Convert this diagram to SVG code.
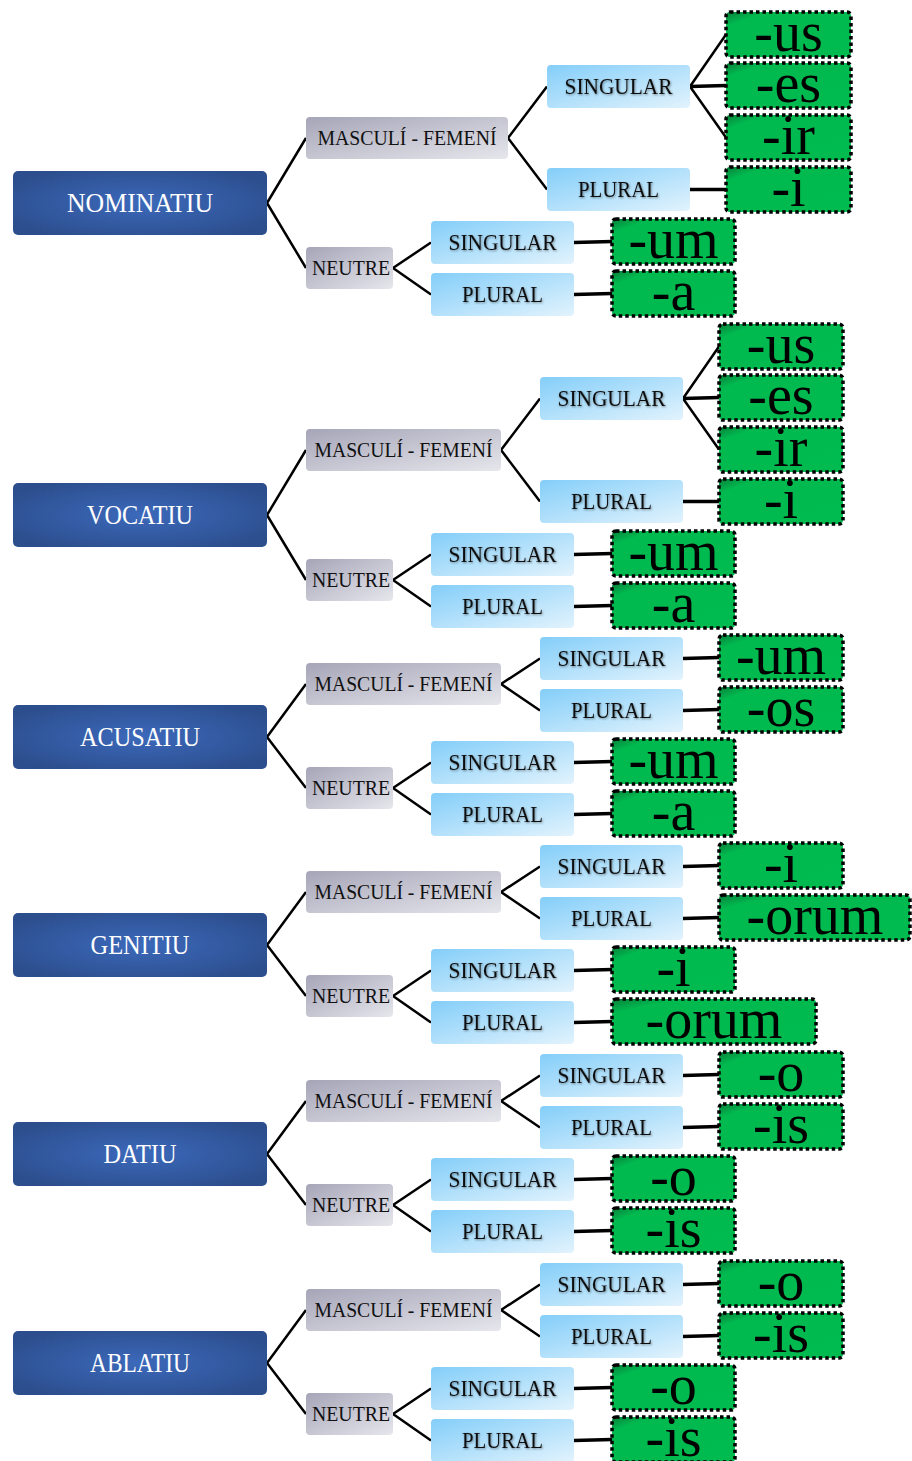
<svg xmlns="http://www.w3.org/2000/svg" width="912" height="1461" viewBox="0 0 912 1461">
<defs>
<radialGradient id="gCase" cx="0.5" cy="0.5" r="0.6">
<stop offset="0" stop-color="#3c69bb"/><stop offset="1" stop-color="#2c4e8d"/>
</radialGradient>
<linearGradient id="gGray" x1="0" y1="0" x2="1" y2="1">
<stop offset="0" stop-color="#a6a5b8"/><stop offset="1" stop-color="#e6e6ec"/>
</linearGradient>
<linearGradient id="gBlue" x1="0" y1="0" x2="1" y2="1">
<stop offset="0" stop-color="#84cef9"/><stop offset="1" stop-color="#e2f3fd"/>
</linearGradient>
<linearGradient id="gGreen" x1="0" y1="0" x2="1" y2="1">
<stop offset="0" stop-color="#07803a"/><stop offset="0.16" stop-color="#00b94f"/><stop offset="1" stop-color="#00bb50"/>
</linearGradient>
<filter id="sh" x="-10%" y="-30%" width="120%" height="160%">
<feDropShadow dx="0.8" dy="1" stdDeviation="0.8" flood-color="#000" flood-opacity="0.45"/>
</filter>
</defs>
<style>
.case{fill:url(#gCase)}
.cat{fill:url(#gGray)}
.num{fill:url(#gBlue)}
.end{fill:url(#gGreen);stroke:#000;stroke-width:3.5;stroke-dasharray:3.5 3}
text{font-family:"Liberation Serif","Times New Roman",serif;text-anchor:middle}
.tc{font-size:28px;fill:#fff}
.tg{font-size:22px;fill:#111}
.tn{font-size:23px;fill:#111;filter:url(#sh)}
.te{font-size:56px;fill:#000}
.d{stroke:#000;stroke-width:2.5;fill:none}
.h{stroke:#000;stroke-width:3.5;fill:none}
</style>
<g id="connectors">
<path class="d" d="M267,203 L306,138 M267,203 L306,268 M508,138 L547,86.5 M508,138 L547,189.5 M690,86.5 L726,34.5 M690,86.5 L726,137.5 M393,268 L431,242.5 M393,268 L431,294.5"/>
<path class="h" d="M690,86.5 L726,85.5 M690,189.5 L726,189.5 M574,242.5 L612,241.5 M574,294.5 L612,293.5"/>
<path class="d" d="M267,515 L306,450 M267,515 L306,580 M501,450 L540,398.5 M501,450 L540,501.5 M683,398.5 L719,346.5 M683,398.5 L719,449.5 M393,580 L431,554.5 M393,580 L431,606.5"/>
<path class="h" d="M683,398.5 L719,397.5 M683,501.5 L719,501.5 M574,554.5 L612,553.5 M574,606.5 L612,605.5"/>
<path class="d" d="M267,737 L306,684 M267,737 L306,788 M501,684 L540,658.5 M501,684 L540,710.5 M393,788 L431,762.5 M393,788 L431,814.5"/>
<path class="h" d="M683,658.5 L719,657.5 M683,710.5 L719,709.5 M574,762.5 L612,761.5 M574,814.5 L612,813.5"/>
<path class="d" d="M267,945 L306,892 M267,945 L306,996 M501,892 L540,866.5 M501,892 L540,918.5 M393,996 L431,970.5 M393,996 L431,1022.5"/>
<path class="h" d="M683,866.5 L719,865.5 M683,918.5 L719,917.5 M574,970.5 L612,969.5 M574,1022.5 L612,1021.5"/>
<path class="d" d="M267,1154 L306,1101 M267,1154 L306,1205 M501,1101 L540,1075.5 M501,1101 L540,1127.5 M393,1205 L431,1179.5 M393,1205 L431,1231.5"/>
<path class="h" d="M683,1075.5 L719,1074.5 M683,1127.5 L719,1126.5 M574,1179.5 L612,1178.5 M574,1231.5 L612,1230.5"/>
<path class="d" d="M267,1363 L306,1310 M267,1363 L306,1414 M501,1310 L540,1284.5 M501,1310 L540,1336.5 M393,1414 L431,1388.5 M393,1414 L431,1440.5"/>
<path class="h" d="M683,1284.5 L719,1283.5 M683,1336.5 L719,1335.5 M574,1388.5 L612,1387.5 M574,1440.5 L612,1439.5"/>
</g>

<!-- Block 1 NOMINATIU -->
<g id="nom"><rect class="case" x="13" y="171" width="254" height="64" rx="5"/><text class="tc" x="140" y="212" textLength="146" lengthAdjust="spacingAndGlyphs">NOMINATIU</text></g>
<g id="nom-mf"><rect class="cat" x="306" y="117" width="202" height="42" rx="4"/><text class="tg" x="407" y="145" textLength="179" lengthAdjust="spacingAndGlyphs">MASCULÍ - FEMENÍ</text></g>
<g id="nom-n"><rect class="cat" x="306" y="247" width="87" height="42" rx="4"/><text class="tg" x="351" y="275" textLength="78" lengthAdjust="spacingAndGlyphs">NEUTRE</text></g>
<g id="nom-mf-s"><rect class="num" x="547" y="65" width="143" height="43" rx="4"/><text class="tn" x="618.5" y="94" textLength="108" lengthAdjust="spacingAndGlyphs">SINGULAR</text></g>
<g id="nom-mf-p"><rect class="num" x="547" y="168" width="143" height="43" rx="4"/><text class="tn" x="618.5" y="197" textLength="81" lengthAdjust="spacingAndGlyphs">PLURAL</text></g>
<g id="nom-e1"><rect class="end" x="726" y="12" width="125" height="45" rx="4"/><text class="te" x="788.5" y="51">-us</text></g>
<g id="nom-e2"><rect class="end" x="726" y="63" width="125" height="45" rx="4"/><text class="te" x="788.5" y="102">-es</text></g>
<g id="nom-e3"><rect class="end" x="726" y="115" width="125" height="45" rx="4"/><text class="te" x="788.5" y="154">-ir</text></g>
<g id="nom-e4"><rect class="end" x="726" y="167" width="125" height="45" rx="4"/><text class="te" x="788.5" y="206">-i</text></g>
<g id="nom-n-s"><rect class="num" x="431" y="221" width="143" height="43" rx="4"/><text class="tn" x="502.5" y="250" textLength="108" lengthAdjust="spacingAndGlyphs">SINGULAR</text></g>
<g id="nom-n-p"><rect class="num" x="431" y="273" width="143" height="43" rx="4"/><text class="tn" x="502.5" y="302" textLength="81" lengthAdjust="spacingAndGlyphs">PLURAL</text></g>
<g id="nom-e5"><rect class="end" x="612" y="219" width="123" height="45" rx="4"/><text class="te" x="673.5" y="258">-um</text></g>
<g id="nom-e6"><rect class="end" x="612" y="271" width="123" height="45" rx="4"/><text class="te" x="673.5" y="310">-a</text></g>

<!-- Block 2 VOCATIU -->
<g id="voc"><rect class="case" x="13" y="483" width="254" height="64" rx="5"/><text class="tc" x="140" y="524" textLength="106" lengthAdjust="spacingAndGlyphs">VOCATIU</text></g>
<g id="voc-mf"><rect class="cat" x="306" y="429" width="195" height="42" rx="4"/><text class="tg" x="403.5" y="457" textLength="178" lengthAdjust="spacingAndGlyphs">MASCULÍ - FEMENÍ</text></g>
<g id="voc-n"><rect class="cat" x="306" y="559" width="87" height="42" rx="4"/><text class="tg" x="351" y="587" textLength="78" lengthAdjust="spacingAndGlyphs">NEUTRE</text></g>
<g id="voc-mf-s"><rect class="num" x="540" y="377" width="143" height="43" rx="4"/><text class="tn" x="611.5" y="406" textLength="108" lengthAdjust="spacingAndGlyphs">SINGULAR</text></g>
<g id="voc-mf-p"><rect class="num" x="540" y="480" width="143" height="43" rx="4"/><text class="tn" x="611.5" y="509" textLength="81" lengthAdjust="spacingAndGlyphs">PLURAL</text></g>
<g id="voc-e1"><rect class="end" x="719" y="324" width="124" height="45" rx="4"/><text class="te" x="781" y="363">-us</text></g>
<g id="voc-e2"><rect class="end" x="719" y="375" width="124" height="45" rx="4"/><text class="te" x="781" y="414">-es</text></g>
<g id="voc-e3"><rect class="end" x="719" y="427" width="124" height="45" rx="4"/><text class="te" x="781" y="466">-ir</text></g>
<g id="voc-e4"><rect class="end" x="719" y="479" width="124" height="45" rx="4"/><text class="te" x="781" y="518">-i</text></g>
<g id="voc-n-s"><rect class="num" x="431" y="533" width="143" height="43" rx="4"/><text class="tn" x="502.5" y="562" textLength="108" lengthAdjust="spacingAndGlyphs">SINGULAR</text></g>
<g id="voc-n-p"><rect class="num" x="431" y="585" width="143" height="43" rx="4"/><text class="tn" x="502.5" y="614" textLength="81" lengthAdjust="spacingAndGlyphs">PLURAL</text></g>
<g id="voc-e5"><rect class="end" x="612" y="531" width="123" height="45" rx="4"/><text class="te" x="673.5" y="570">-um</text></g>
<g id="voc-e6"><rect class="end" x="612" y="583" width="123" height="45" rx="4"/><text class="te" x="673.5" y="622">-a</text></g>

<!-- Block 3 ACUSATIU -->
<g id="acu"><rect class="case" x="13" y="705" width="254" height="64" rx="5"/><text class="tc" x="140" y="746" textLength="120" lengthAdjust="spacingAndGlyphs">ACUSATIU</text></g>
<g id="acu-mf"><rect class="cat" x="306" y="663" width="195" height="42" rx="4"/><text class="tg" x="403.5" y="691" textLength="178" lengthAdjust="spacingAndGlyphs">MASCULÍ - FEMENÍ</text></g>
<g id="acu-n"><rect class="cat" x="306" y="767" width="87" height="42" rx="4"/><text class="tg" x="351" y="795" textLength="78" lengthAdjust="spacingAndGlyphs">NEUTRE</text></g>
<g id="acu-mf-s"><rect class="num" x="540" y="637" width="143" height="43" rx="4"/><text class="tn" x="611.5" y="666" textLength="108" lengthAdjust="spacingAndGlyphs">SINGULAR</text></g>
<g id="acu-mf-p"><rect class="num" x="540" y="689" width="143" height="43" rx="4"/><text class="tn" x="611.5" y="718" textLength="81" lengthAdjust="spacingAndGlyphs">PLURAL</text></g>
<g id="acu-e1"><rect class="end" x="719" y="635" width="124" height="45" rx="4"/><text class="te" x="781" y="674">-um</text></g>
<g id="acu-e2"><rect class="end" x="719" y="687" width="124" height="45" rx="4"/><text class="te" x="781" y="726">-os</text></g>
<g id="acu-n-s"><rect class="num" x="431" y="741" width="143" height="43" rx="4"/><text class="tn" x="502.5" y="770" textLength="108" lengthAdjust="spacingAndGlyphs">SINGULAR</text></g>
<g id="acu-n-p"><rect class="num" x="431" y="793" width="143" height="43" rx="4"/><text class="tn" x="502.5" y="822" textLength="81" lengthAdjust="spacingAndGlyphs">PLURAL</text></g>
<g id="acu-e3"><rect class="end" x="612" y="739" width="123" height="45" rx="4"/><text class="te" x="673.5" y="778">-um</text></g>
<g id="acu-e4"><rect class="end" x="612" y="791" width="123" height="45" rx="4"/><text class="te" x="673.5" y="830">-a</text></g>

<!-- Block 4 GENITIU -->
<g id="gen"><rect class="case" x="13" y="913" width="254" height="64" rx="5"/><text class="tc" x="140" y="954" textLength="99" lengthAdjust="spacingAndGlyphs">GENITIU</text></g>
<g id="gen-mf"><rect class="cat" x="306" y="871" width="195" height="42" rx="4"/><text class="tg" x="403.5" y="899" textLength="178" lengthAdjust="spacingAndGlyphs">MASCULÍ - FEMENÍ</text></g>
<g id="gen-n"><rect class="cat" x="306" y="975" width="87" height="42" rx="4"/><text class="tg" x="351" y="1003" textLength="78" lengthAdjust="spacingAndGlyphs">NEUTRE</text></g>
<g id="gen-mf-s"><rect class="num" x="540" y="845" width="143" height="43" rx="4"/><text class="tn" x="611.5" y="874" textLength="108" lengthAdjust="spacingAndGlyphs">SINGULAR</text></g>
<g id="gen-mf-p"><rect class="num" x="540" y="897" width="143" height="43" rx="4"/><text class="tn" x="611.5" y="926" textLength="81" lengthAdjust="spacingAndGlyphs">PLURAL</text></g>
<g id="gen-e1"><rect class="end" x="719" y="843" width="124" height="45" rx="4"/><text class="te" x="781" y="882">-i</text></g>
<g id="gen-e2"><rect class="end" x="719" y="895" width="191" height="45" rx="4"/><text class="te" x="815" y="934">-orum</text></g>
<g id="gen-n-s"><rect class="num" x="431" y="949" width="143" height="43" rx="4"/><text class="tn" x="502.5" y="978" textLength="108" lengthAdjust="spacingAndGlyphs">SINGULAR</text></g>
<g id="gen-n-p"><rect class="num" x="431" y="1001" width="143" height="43" rx="4"/><text class="tn" x="502.5" y="1030" textLength="81" lengthAdjust="spacingAndGlyphs">PLURAL</text></g>
<g id="gen-e3"><rect class="end" x="612" y="947" width="123" height="45" rx="4"/><text class="te" x="673.5" y="986">-i</text></g>
<g id="gen-e4"><rect class="end" x="612" y="999" width="204" height="45" rx="4"/><text class="te" x="714" y="1038">-orum</text></g>

<!-- Block 5 DATIU -->
<g id="dat"><rect class="case" x="13" y="1122" width="254" height="64" rx="5"/><text class="tc" x="140" y="1163" textLength="73" lengthAdjust="spacingAndGlyphs">DATIU</text></g>
<g id="dat-mf"><rect class="cat" x="306" y="1080" width="195" height="42" rx="4"/><text class="tg" x="403.5" y="1108" textLength="178" lengthAdjust="spacingAndGlyphs">MASCULÍ - FEMENÍ</text></g>
<g id="dat-n"><rect class="cat" x="306" y="1184" width="87" height="42" rx="4"/><text class="tg" x="351" y="1212" textLength="78" lengthAdjust="spacingAndGlyphs">NEUTRE</text></g>
<g id="dat-mf-s"><rect class="num" x="540" y="1054" width="143" height="43" rx="4"/><text class="tn" x="611.5" y="1083" textLength="108" lengthAdjust="spacingAndGlyphs">SINGULAR</text></g>
<g id="dat-mf-p"><rect class="num" x="540" y="1106" width="143" height="43" rx="4"/><text class="tn" x="611.5" y="1135" textLength="81" lengthAdjust="spacingAndGlyphs">PLURAL</text></g>
<g id="dat-e1"><rect class="end" x="719" y="1052" width="124" height="45" rx="4"/><text class="te" x="781" y="1091">-o</text></g>
<g id="dat-e2"><rect class="end" x="719" y="1104" width="124" height="45" rx="4"/><text class="te" x="781" y="1143">-is</text></g>
<g id="dat-n-s"><rect class="num" x="431" y="1158" width="143" height="43" rx="4"/><text class="tn" x="502.5" y="1187" textLength="108" lengthAdjust="spacingAndGlyphs">SINGULAR</text></g>
<g id="dat-n-p"><rect class="num" x="431" y="1210" width="143" height="43" rx="4"/><text class="tn" x="502.5" y="1239" textLength="81" lengthAdjust="spacingAndGlyphs">PLURAL</text></g>
<g id="dat-e3"><rect class="end" x="612" y="1156" width="123" height="45" rx="4"/><text class="te" x="673.5" y="1195">-o</text></g>
<g id="dat-e4"><rect class="end" x="612" y="1208" width="123" height="45" rx="4"/><text class="te" x="673.5" y="1247">-is</text></g>

<!-- Block 6 ABLATIU -->
<g id="abl"><rect class="case" x="13" y="1331" width="254" height="64" rx="5"/><text class="tc" x="140" y="1372" textLength="100" lengthAdjust="spacingAndGlyphs">ABLATIU</text></g>
<g id="abl-mf"><rect class="cat" x="306" y="1289" width="195" height="42" rx="4"/><text class="tg" x="403.5" y="1317" textLength="178" lengthAdjust="spacingAndGlyphs">MASCULÍ - FEMENÍ</text></g>
<g id="abl-n"><rect class="cat" x="306" y="1393" width="87" height="42" rx="4"/><text class="tg" x="351" y="1421" textLength="78" lengthAdjust="spacingAndGlyphs">NEUTRE</text></g>
<g id="abl-mf-s"><rect class="num" x="540" y="1263" width="143" height="43" rx="4"/><text class="tn" x="611.5" y="1292" textLength="108" lengthAdjust="spacingAndGlyphs">SINGULAR</text></g>
<g id="abl-mf-p"><rect class="num" x="540" y="1315" width="143" height="43" rx="4"/><text class="tn" x="611.5" y="1344" textLength="81" lengthAdjust="spacingAndGlyphs">PLURAL</text></g>
<g id="abl-e1"><rect class="end" x="719" y="1261" width="124" height="45" rx="4"/><text class="te" x="781" y="1300">-o</text></g>
<g id="abl-e2"><rect class="end" x="719" y="1313" width="124" height="45" rx="4"/><text class="te" x="781" y="1352">-is</text></g>
<g id="abl-n-s"><rect class="num" x="431" y="1367" width="143" height="43" rx="4"/><text class="tn" x="502.5" y="1396" textLength="108" lengthAdjust="spacingAndGlyphs">SINGULAR</text></g>
<g id="abl-n-p"><rect class="num" x="431" y="1419" width="143" height="43" rx="4"/><text class="tn" x="502.5" y="1448" textLength="81" lengthAdjust="spacingAndGlyphs">PLURAL</text></g>
<g id="abl-e3"><rect class="end" x="612" y="1365" width="123" height="45" rx="4"/><text class="te" x="673.5" y="1404">-o</text></g>
<g id="abl-e4"><rect class="end" x="612" y="1417" width="123" height="45" rx="4"/><text class="te" x="673.5" y="1456">-is</text></g>
</svg>
